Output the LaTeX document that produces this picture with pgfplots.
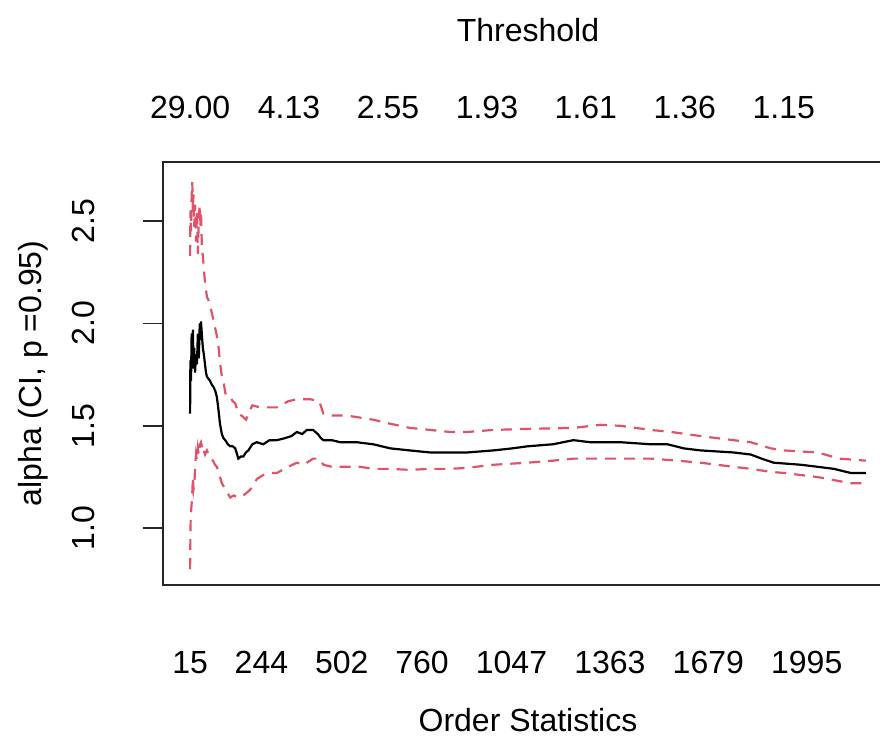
\documentclass[border=0pt]{standalone}
\usepackage{fontspec}
\setmainfont{Liberation Sans}
\usepackage{pgfplots}
\pgfplotsset{compat=1.18}
\definecolor{rred}{HTML}{DF536B}
\begin{document}
\fontsize{16pt}{19pt}\selectfont
\begin{tikzpicture}
\useasboundingbox (0,0) rectangle (440pt,370pt);
\begin{axis}[
  at={(81.5pt,77.5pt)}, anchor=south west,
  width=365pt, height=211.5pt, scale only axis,
  xmin=-72, xmax=2272, ymin=0.723, ymax=2.788,
  axis line style={line width=0.9pt, black!85},
  /pgf/number format/assume math mode=true,
  xtick={15,244,502,760,1047,1363,1679,1995},
  xticklabels={15,244,502,760,1047,1363,1679,1995},
  xtick style={draw=none},
  xticklabel style={anchor=center, inner sep=0pt, font=\fontsize{16pt}{19pt}\selectfont},
  xticklabel shift=28.75pt,
  ytick={1,1.5,2,2.5},
  yticklabel style={rotate=90, anchor=center, inner sep=0pt, font=\fontsize{16pt}{19pt}\selectfont,
    /pgf/number format/.cd, fixed, fixed zerofill, precision=1},
  yticklabel shift=29.85pt,
  ytick style={line width=0.9pt, black!85},
  tick align=outside, major tick length=10pt,
  xtick pos=bottom, ytick pos=left,
  xlabel={Order Statistics},
  xlabel style={at={(axis description cs:0.5,-0.319)}, anchor=center, font=\fontsize{16pt}{19pt}\selectfont},
  ylabel={alpha (CI, p =0.95)},
  ylabel style={at={(axis description cs:-0.1777,0.5)}, anchor=center, rotate=0, font=\fontsize{16pt}{19pt}\selectfont},
  clip=true,
]
\addplot[black, line width=1.1pt] coordinates {
(15,1.56) (16,1.82) (18,1.72) (20,1.95) (22,1.80) (24,1.97) (26,1.78) (28,1.88) (31,1.76) (34,1.85)
(37,1.80) (40,1.95) (43,1.83) (46,2.00) (48,1.92) (50,2.01) (53,1.94) (56,1.88) (59,1.85) (63,1.80)
(66,1.76) (69,1.74) (74,1.73) (79,1.72) (85,1.70) (90,1.69) (96,1.67) (101,1.64) (106,1.58) (111,1.51)
(117,1.46) (122,1.44) (128,1.43) (136,1.41) (144,1.40) (152,1.40) (160,1.39) (166,1.36) (170,1.34) (178,1.35)
(186,1.35) (194,1.37) (202,1.38) (215,1.41) (229,1.42) (250,1.41) (270,1.43) (294,1.43) (320,1.44) (340,1.45)
(358,1.47) (375,1.46) (390,1.48) (410,1.48) (425,1.46) (435,1.44) (443,1.43) (470,1.43) (497,1.42) (550,1.42)
(603,1.41) (658,1.39) (720,1.38) (786,1.37) (850,1.37) (905,1.37) (989,1.38) (1050,1.39) (1098,1.40) (1180,1.41)
(1246,1.43) (1300,1.42) (1397,1.42) (1494,1.41) (1548,1.41) (1600,1.39) (1654,1.38) (1760,1.37) (1815,1.36) (1850,1.34)
(1889,1.32) (1976,1.31) (2030,1.30) (2082,1.29) (2136,1.27) (2185,1.27)
};
\addplot[rred, line width=1.1pt, dash pattern=on 5.5pt off 4pt] coordinates {
(15,2.33) (16,2.55) (18,2.45) (20,2.62) (22,2.69) (24,2.55) (26,2.63) (28,2.47) (31,2.58) (34,2.40)
(37,2.55) (40,2.34) (43,2.52) (46,2.58) (48,2.47) (50,2.55) (53,2.36) (56,2.33) (60,2.25) (63,2.20)
(69,2.13) (75,2.11) (85,2.05) (95,1.98) (101,1.94) (106,1.89) (111,1.81) (117,1.74) (122,1.72) (128,1.66)
(136,1.64) (144,1.64) (152,1.62) (160,1.61) (170,1.56) (180,1.55) (195,1.53) (202,1.56) (215,1.60) (240,1.59)
(270,1.59) (294,1.59) (330,1.62) (358,1.63) (400,1.63) (430,1.62) (443,1.56) (470,1.55) (520,1.55) (561,1.54)
(603,1.53) (658,1.51) (720,1.49) (786,1.48) (850,1.47) (905,1.47) (989,1.48) (1098,1.485) (1246,1.49) (1333,1.505)
(1397,1.50) (1494,1.48) (1560,1.47) (1654,1.45) (1760,1.43) (1815,1.42) (1880,1.39) (1921,1.38) (2030,1.37) (2100,1.34)
(2185,1.33)
};
\addplot[rred, line width=1.1pt, dash pattern=on 5.5pt off 4pt] coordinates {
(15,0.80) (16,0.95) (17,1.06) (20,1.12) (22,1.17) (24,1.25) (26,1.19) (29,1.22) (31,1.30) (34,1.36)
(37,1.33) (40,1.39) (43,1.36) (47,1.41) (50,1.42) (53,1.40) (56,1.37) (59,1.38) (63,1.36) (69,1.38)
(75,1.36) (79,1.35) (85,1.34) (95,1.31) (101,1.30) (111,1.25) (117,1.22) (128,1.19) (136,1.17) (144,1.15)
(155,1.16) (170,1.15) (186,1.16) (202,1.18) (215,1.20) (229,1.24) (250,1.26) (270,1.27) (294,1.27) (330,1.30)
(358,1.32) (380,1.31) (410,1.34) (430,1.34) (443,1.31) (470,1.30) (520,1.30) (561,1.30) (603,1.29) (658,1.29)
(720,1.285) (786,1.29) (850,1.29) (905,1.295) (989,1.31) (1098,1.32) (1180,1.33) (1246,1.34) (1333,1.34) (1494,1.34)
(1580,1.33) (1654,1.32) (1760,1.30) (1815,1.29) (1880,1.275) (1921,1.27) (2030,1.25) (2100,1.23) (2136,1.22) (2185,1.22)
};
\end{axis}
\begin{axis}[
  at={(81.5pt,77.5pt)}, anchor=south west,
  width=365pt, height=211.5pt, scale only axis,
  xmin=-72, xmax=2272, ymin=0.723, ymax=2.788,
  hide y axis, axis x line*=top, axis line style={draw=none},
  /pgf/number format/assume math mode=true,
  xtick={15,332.7,650.4,968.1,1285.8,1603.5,1921.2},
  xticklabels={29.00,4.13,2.55,1.93,1.61,1.36,1.15},
  xtick style={draw=none}, major tick length=0pt,
  xticklabel pos=upper,
  xticklabel style={anchor=center, inner sep=0pt, font=\fontsize{16pt}{19pt}\selectfont},
  xticklabel shift=27.25pt,
  xlabel={Threshold},
  xlabel style={at={(axis description cs:0.5,1.313)}, anchor=center, font=\fontsize{16pt}{19pt}\selectfont},
]
\addplot[draw=none] coordinates {(15,1)};
\end{axis}
\end{tikzpicture}
\end{document}
